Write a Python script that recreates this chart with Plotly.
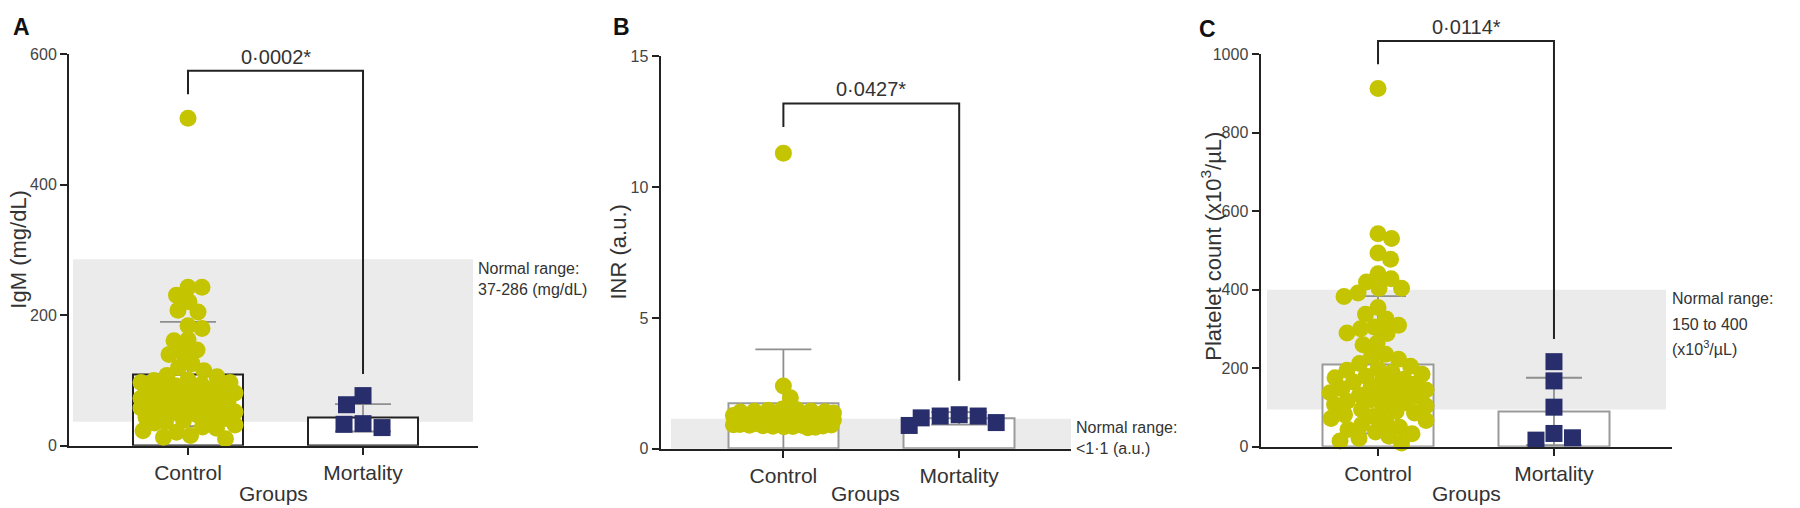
import numpy as np
import plotly.graph_objects as go

W, H = 1800, 508

# ---------------- data ----------------
categories = ["Control", "Mortality"]
panel_letters = ["A", "B", "C"]
y_titles = ["IgM (mg/dL)", "INR (a.u.)", "Platelet count (x10<sup>3</sup>/µL)"]
x_title = "Groups"

y_ticks_A = [0, 200, 400, 600]
y_ticks_B = [0, 5, 10, 15]
y_ticks_C = [0, 200, 400, 600, 800, 1000]

igm_control = [502, 243, 243, 231, 221, 208, 205, 184, 180, 163, 161, 147, 142, 140,
               126, 120, 115, 108, 106, 101, 100, 97, 97, 94, 92, 91, 88, 88, 85, 84,
               81, 80, 79, 76, 75, 73, 71, 70, 66, 66, 64, 61, 60, 58, 56, 55, 52, 51,
               50, 47, 45, 44, 42, 39, 37, 35, 32, 29, 27, 23, 21, 16, 13, 11]
igm_mortality = [77, 63, 34, 33, 28]

inr_control = [11.3, 2.4, 1.95, 1.52, 1.49, 1.47, 1.44, 1.43, 1.41, 1.40, 1.37, 1.36,
               1.35, 1.33, 1.31, 1.30, 1.28, 1.27, 1.26, 1.24, 1.23, 1.22, 1.21, 1.19,
               1.18, 1.17, 1.16, 1.15, 1.13, 1.12, 1.12, 1.10, 1.09, 1.08, 1.07, 1.06,
               1.05, 1.04, 1.03, 1.02, 1.01, 1.00, 0.99, 0.98, 0.97, 0.96, 0.95, 0.94,
               0.93, 0.92, 0.91, 0.90, 0.89, 0.88, 0.87, 0.86, 0.85, 0.84, 0.82, 0.80]
inr_mortality = [1.0, 1.3, 1.18, 1.25, 0.89, 1.25]

plt_control = [913, 543, 531, 494, 478, 441, 428, 420, 404, 404, 392, 383, 355, 338,
               326, 310, 305, 301, 290, 289, 264, 260, 236, 231, 223, 212, 205, 199,
               195, 190, 185, 180, 176, 172, 168, 165, 160, 156, 152, 148, 145, 142,
               138, 135, 132, 128, 125, 120, 116, 112, 108, 104, 100, 95, 90, 86, 82,
               77, 72, 67, 62, 56, 50, 44, 38, 33, 27, 22, 15, 10]
plt_mortality = [217, 168, 101, 34, 17, 23]

bar_mean_A = [110, 43]
bar_sd_A = [80, 21]
bar_mean_B = [1.74, 1.16]
bar_sd_B = [2.06, 0.24]
bar_mean_C = [209, 90]
bar_sd_C = [175, 86]

normal_band_A = [37, 286]
normal_band_B = [0, 1.15]
normal_band_C = [95, 400]
normal_text_A = ["Normal range:", "37-286 (mg/dL)"]
normal_text_B = ["Normal range:", "&lt;1·1 (a.u.)"]
normal_text_C = ["Normal range:", "150 to 400", "(x10<sup>3</sup>/µL)"]

p_values = ["0·0002*", "0·0427*", "0·0114*"]
# bracket: [left leg bottom, top, right leg bottom]
bracket_A = [539, 575, 110]
bracket_B = [12.3, 13.2, 2.6]
bracket_C = [975, 1034, 275]

# ---------------- styling / geometry (pixels) ----------------
FONT = "Liberation Sans, Arial, Helvetica, sans-serif"
YELLOW = "#c4c400"
NAVY = "#282e6c"
TXT = "#333333"
AX = "#222222"

panels = [
    dict(ctrl=igm_control, mort=igm_mortality, mean=bar_mean_A, sd=bar_sd_A,
         ticks=y_ticks_A, band=normal_band_A, note=normal_text_A, br=bracket_A,
         xd=(69, 478), yd=(48, 453), xr=(-0.68, 1.657), yr=(0, 600),
         band_px=(73, 473), note_x=476, note_y=[270, 291], ytitle=(19, 250),
         letter=(21, 20), bar_line=AX, maxoff=47),
    dict(ctrl=inr_control, mort=inr_mortality, mean=bar_mean_B, sd=bar_sd_B,
         ticks=y_ticks_B, band=normal_band_B, note=normal_text_B, br=bracket_B,
         xd=(660.5, 1071), yd=(50, 456), xr=(-0.699, 1.636), yr=(0, 15),
         band_px=(671, 1071), note_x=1074, note_y=[434, 456], ytitle=(619, 253),
         letter=(621, 20), bar_line="#9a9a9a", maxoff=50),
    dict(ctrl=plt_control, mort=plt_mortality, mean=bar_mean_C, sd=bar_sd_C,
         ticks=y_ticks_C, band=normal_band_C, note=normal_text_C, br=bracket_C,
         xd=(1260.5, 1671.5), yd=(48, 454), xr=(-0.668, 1.668), yr=(0, 1000),
         band_px=(1267, 1666), note_x=1670, note_y=[301, 327, 352], ytitle=(1211, 247),
         letter=(1207, 22), bar_line="#9a9a9a", maxoff=48),
]


def pxx(p):
    return p / W


def pxy(p):
    return 1 - p / H


def swarm_offsets(values, ppu_y, dmin, maxoff, step=0.5):
    """Deterministic beeswarm: each point goes to the nearest free slot."""
    order = sorted(range(len(values)), key=lambda i: -values[i])
    n = int(maxoff / step)
    mags = np.arange(0, n + 1) * step
    cand_pos = np.concatenate([[0.0], np.ravel(np.column_stack([mags[1:], -mags[1:]]))])
    cand_neg = -cand_pos
    px, py = [], []
    offs = [0.0] * len(values)
    for k, i in enumerate(order):
        cands = cand_pos if k % 2 == 0 else cand_neg
        y = values[i] * ppu_y
        if px:
            dx = cands[:, None] - np.array(px)[None, :]
            dy = y - np.array(py)[None, :]
            md = np.sqrt(dx ** 2 + dy ** 2).min(axis=1)
            ok = np.nonzero(md >= dmin)[0]
            j = int(ok[0]) if len(ok) else int(np.argmax(md))
        else:
            j = 0
        offs[i] = float(cands[j])
        px.append(cands[j])
        py.append(y)
    return offs


fig = go.Figure()
shapes, annotations = [], []

for i, P in enumerate(panels):
    sfx = "" if i == 0 else str(i + 1)
    xa, ya = "x" + sfx, "y" + sfx
    x0p, x1p = P["xd"]
    y0p, y1p = P["yd"]  # top, bottom in pixels
    xr, yr = P["xr"], P["yr"]
    ppc = (x1p - x0p) / (xr[1] - xr[0])
    ppu = (y1p - y0p) / (yr[1] - yr[0])

    def dx2p(v, x0p=x0p, xr=xr, ppc=ppc):
        return pxx(x0p + (v - xr[0]) * ppc)

    def dy2p(v, y1p=y1p, yr=yr, ppu=ppu):
        return pxy(y1p - (v - yr[0]) * ppu)

    fig.add_trace(go.Bar(
        x=[0, 1], y=P["mean"], width=0.63, xaxis=xa, yaxis=ya,
        marker=dict(color="white", line=dict(color=P["bar_line"], width=2)),
        error_y=dict(type="data", array=P["sd"], color="#8f8f8f", thickness=1.8, width=28),
        hoverinfo="skip"))

    off_c = swarm_offsets(P["ctrl"], ppu, 14, P["maxoff"])
    fig.add_trace(go.Scatter(
        x=[o / ppc for o in off_c], y=P["ctrl"], mode="markers", xaxis=xa, yaxis=ya,
        cliponaxis=False,
        marker=dict(symbol="circle", size=17, color=YELLOW, line=dict(width=0))))

    off_m = swarm_offsets(P["mort"], ppu, 19, P["maxoff"])
    fig.add_trace(go.Scatter(
        x=[1 + o / ppc for o in off_m], y=P["mort"], mode="markers", xaxis=xa, yaxis=ya,
        cliponaxis=False,
        marker=dict(symbol="square", size=17, color=NAVY, line=dict(width=0))))

    fig.layout["xaxis" + sfx] = dict(
        domain=[pxx(x0p), pxx(x1p)], range=list(xr), anchor=ya,
        tickvals=[0, 1], ticktext=categories, ticks="outside", ticklen=7, tickwidth=2,
        tickcolor=AX, showline=True, linecolor=AX, linewidth=2, showgrid=False,
        zeroline=False, tickfont=dict(family=FONT, size=21, color=TXT), fixedrange=True)
    fig.layout["yaxis" + sfx] = dict(
        domain=[pxy(y1p), pxy(y0p)], range=list(yr), anchor=xa,
        tickvals=P["ticks"], ticks="outside", ticklen=7, tickwidth=2, tickcolor=AX,
        showline=True, linecolor=AX, linewidth=2, showgrid=False, zeroline=False,
        tickfont=dict(family=FONT, size=16, color="#444444"), fixedrange=True)

    # normal range band
    shapes.append(dict(type="rect", xref="paper", yref="paper", layer="below",
                       x0=pxx(P["band_px"][0]), x1=pxx(P["band_px"][1]),
                       y0=dy2p(P["band"][0]), y1=dy2p(P["band"][1]),
                       fillcolor="#ecebec", line=dict(width=0)))
    # significance bracket
    lb, top, rb = P["br"]
    bx0, bx1 = dx2p(0), dx2p(1)
    shapes.append(dict(type="path", xref="paper", yref="paper", layer="above",
                       path=f"M {bx0},{dy2p(lb)} L {bx0},{dy2p(top)} L {bx1},{dy2p(top)} L {bx1},{dy2p(rb)}",
                       line=dict(color=AX, width=2)))
    annotations.append(dict(text=p_values[i], xref="paper", yref="paper",
                            x=(bx0 + bx1) / 2, y=dy2p(top), xanchor="center",
                            yanchor="bottom", yshift=1, showarrow=False,
                            font=dict(family=FONT, size=20, color=TXT)))
    # normal range text
    for line, ly in zip(P["note"], P["note_y"]):
        annotations.append(dict(text=line, xref="paper", yref="paper",
                                x=pxx(P["note_x"]), y=pxy(ly), xanchor="left",
                                yanchor="middle", showarrow=False,
                                font=dict(family=FONT, size=16, color=TXT)))
    # y title
    annotations.append(dict(text=y_titles[i], xref="paper", yref="paper",
                            x=pxx(P["ytitle"][0]), y=pxy(P["ytitle"][1]),
                            xanchor="center", yanchor="middle", textangle=-90,
                            showarrow=False, font=dict(family=FONT, size=22, color=TXT)))
    # x title
    annotations.append(dict(text=x_title, xref="paper", yref="paper",
                            x=pxx((x0p + x1p) / 2), y=pxy(502), xanchor="center",
                            yanchor="middle", showarrow=False,
                            font=dict(family=FONT, size=21, color=TXT)))
    # panel letter
    annotations.append(dict(text="<b>" + panel_letters[i] + "</b>", xref="paper",
                            yref="paper", x=pxx(P["letter"][0]), y=pxy(P["letter"][1]),
                            xanchor="center", yanchor="middle", showarrow=False,
                            font=dict(family=FONT, size=23, color="#111111")))

fig.update_layout(
    width=W, height=H, autosize=False,
    margin=dict(l=0, r=0, t=0, b=0, pad=0),
    paper_bgcolor="white", plot_bgcolor="rgba(0,0,0,0)",
    showlegend=False, bargap=0, shapes=shapes, annotations=annotations,
    font=dict(family=FONT, color=TXT))

fig.write_html("out.html", config={"displayModeBar": False},
               post_script="document.body.style.margin='0';")
